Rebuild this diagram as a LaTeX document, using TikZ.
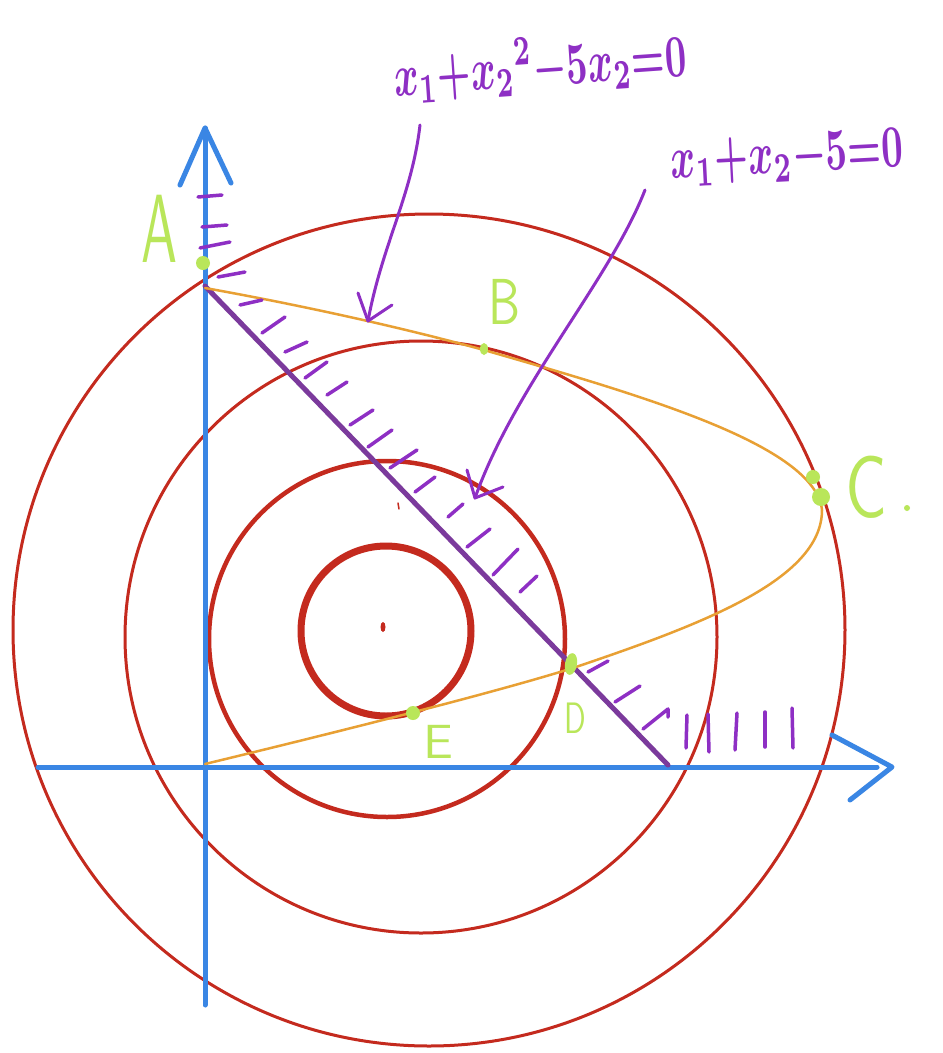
\documentclass[tikz,border=0pt]{standalone}
\usetikzlibrary{arrows.meta}
\definecolor{axisblue}{HTML}{3A86E4}
\definecolor{circred}{HTML}{C42A1E}
\definecolor{parorange}{HTML}{E8A034}
\definecolor{inkpurple}{HTML}{8E2FC4}
\definecolor{linepurple}{HTML}{7B3A9C}
\definecolor{markgreen}{HTML}{B9E65A}
\begin{document}
\begin{tikzpicture}[x=1pt,y=-1pt,line cap=round,line join=round,
  axis/.style={draw=axisblue,line width=5},
  ring/.style={draw=circred},
  hatch/.style={draw=inkpurple,line width=3.5},
  pointer/.style={draw=inkpurple,line width=3},
  ptmark/.style={fill=markgreen,draw=none},
  lbl/.style={text=markgreen,font=\sffamily,inner sep=0pt},
  eqn/.style={text=inkpurple,inner sep=0pt}]
\useasboundingbox (0,0) rectangle (943,1053);
\fill[white] (0,0) rectangle (943,1053);

% circles
\draw[ring,line width=3] (429,630) circle[radius=416];
\draw[ring,line width=3] (421,637) circle[radius=296];
\draw[ring,line width=4.5] (387,639) circle[radius=178];
\draw[ring,line width=7] (386,631) circle[radius=85];
\fill[circred] (383,627) ellipse[x radius=2.5,y radius=5];
\draw[circred,line width=1.5] (398,503) -- (399,509);

% axes
\coordinate (ybot) at (205,1005);
\coordinate (ytop) at (205,128);
\coordinate (yl) at (180,185);
\coordinate (yr) at (231,183);
\coordinate (xl) at (38,767);
\coordinate (xr) at (877,767);
\coordinate (xtip) at (892,767);
\coordinate (xu) at (832,735);
\coordinate (xd) at (850,800);
\draw[axis] (ybot) -- (ytop);
\draw[axis] (yl) -- (ytop) -- (yr);
\draw[axis] (xl) -- (xr);
\draw[axis] (xu) -- (xtip) -- (xd);

% constraint line
\coordinate (A0) at (205,286);
\coordinate (L1) at (668,765);
\draw[linepurple,line width=5] (A0) -- (L1);

% parabola
\coordinate (P0) at (205,288);
\coordinate (PB) at (484,350);
\coordinate (PC) at (822,510);
\coordinate (PD) at (573,668);
\coordinate (PO) at (205,764);
\draw[parorange,line width=2.5]
  (P0) .. controls (300,305) and (400,327) .. (PB)
       .. controls (640,395) and (815,445) .. (PC)
       .. controls (822,580) and (700,625) .. (PD)
       .. controls (480,697) and (300,741) .. (PO);

% hatch marks along y-axis
\draw[hatch] (198,197) -- (222,195);
\draw[hatch] (202,227) -- (227,225);
\draw[hatch] (200,248) -- (230,242);
% hatch marks along the line
\draw[hatch] (218,277) -- (245,272);
\draw[hatch] (240,305) -- (262,300);
\draw[hatch] (262,333) -- (285,317);
\draw[hatch] (285,352) -- (307,342);
\draw[hatch] (305,378) -- (327,362);
\draw[hatch] (327,395) -- (347,382);
\draw[hatch] (350,425) -- (373,410);
\draw[hatch] (368,447) -- (392,430);
\draw[hatch] (390,468) -- (417,450);
\draw[hatch] (415,492) -- (435,477);
\draw[hatch] (448,517) -- (463,504);
\draw[hatch] (467,547) -- (490,529);
\draw[hatch] (493,575) -- (518,549);
\draw[hatch] (520,592) -- (537,576);
\draw[hatch] (588,672) -- (608,661);
\draw[hatch] (615,702) -- (640,686);
\draw[hatch] (643,729) -- (668,709) -- (668,717);
% hatch marks along x-axis
\draw[hatch] (686,748) -- (687,715);
\draw[hatch] (709,752) -- (708,714);
\draw[hatch] (735,750) -- (737,713);
\draw[hatch] (765,747) -- (765,712);
\draw[hatch] (793,748) -- (792,708);

% pointer arrows
\coordinate (p1s) at (420,125);
\coordinate (p1t) at (368,321);
\coordinate (p1a) at (358,293);
\coordinate (p1b) at (392,305);
\draw[pointer] (p1s) .. controls (412,195) and (382,245) .. (p1t);
\draw[pointer] (p1a) -- (p1t) -- (p1b);
\coordinate (p2s) at (645,190);
\coordinate (p2t) at (475,498);
\coordinate (p2a) at (467,470);
\coordinate (p2b) at (503,487);
\draw[pointer] (p2s) .. controls (610,280) and (515,385) .. (p2t);
\draw[pointer] (p2a) -- (p2t) -- (p2b);

% equations
\node[eqn,rotate=4] (eq1) at (540,66) {\scalebox{3.75}[6]{\boldmath$x_1{+}x_2{}^2{-}5x_2{=}0$}};
\node[eqn,rotate=3] (eq2) at (787,158) {\scalebox{3.78}[6]{\boldmath$x_1{+}x_2{-}5{=}0$}};

% points
\fill[ptmark] (203,263) circle[radius=7];
\fill[ptmark] (484,349) ellipse[x radius=4,y radius=6];
\fill[ptmark] (813,477) circle[radius=7];
\fill[ptmark] (821,497) circle[radius=9];
\fill[ptmark,rotate around={-10:(571,664)}] (571,664) ellipse[x radius=6,y radius=11];
\fill[ptmark] (413,713) circle[radius=7];

% labels
\node[lbl] (labA) at (160,229) {\scalebox{5.4}[9.7]{A}};
\node[lbl] (labB) at (505,302) {\scalebox{4.8}[6.5]{B}};
\node[lbl] (labC) at (866,487) {\scalebox{6.5}[8.7]{C}};
\fill[markgreen] (907,508) circle[radius=3];
\node[lbl] (labD) at (575,718) {\scalebox{3}[4.4]{D}};
\node[lbl] (labE) at (438,742) {\scalebox{5}[4.8]{E}};
\end{tikzpicture}
\end{document}
